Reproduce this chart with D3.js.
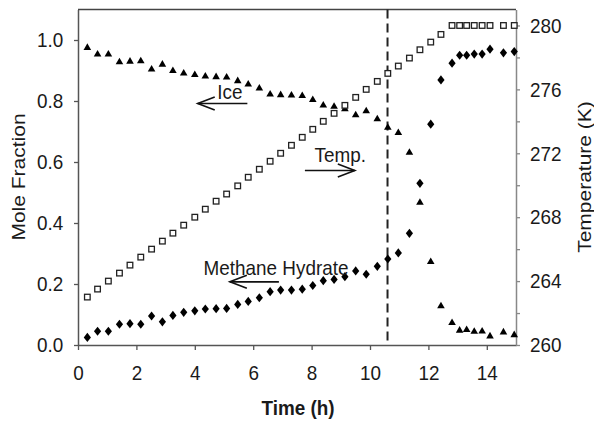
<!DOCTYPE html>
<html><head><meta charset="utf-8">
<script src="https://cdn.jsdelivr.net/npm/d3@7"></script>
<style>body{margin:0;background:#fff}svg{display:block}</style>
</head><body>
<svg id="c" width="594" height="423"></svg>
<script>
// ---- data ----
const time = [0.32,0.67,1.04,1.42,1.78,2.15,2.52,2.89,3.25,3.62,4.00,4.36,4.73,5.09,5.47,5.83,6.21,6.58,6.94,7.31,
  7.68,8.04,8.40,8.77,9.14,9.51,9.87,10.25,10.61,10.97,11.35,11.71,12.08,12.43,12.81,13.07,13.31,13.57,13.84,14.11,14.57,14.94];
const ice = [0.978,0.956,0.956,0.931,0.933,0.934,0.907,0.923,0.902,0.894,0.889,0.884,0.882,0.881,0.869,0.858,0.845,0.825,0.823,0.822,
  0.820,0.807,0.789,0.785,0.777,0.757,0.770,0.744,0.716,0.699,0.634,0.470,0.276,0.131,0.076,0.051,0.053,0.047,0.048,0.032,0.045,0.036];
const hydrate = [0.025,0.045,0.045,0.068,0.070,0.068,0.095,0.076,0.097,0.107,0.112,0.118,0.119,0.120,0.133,0.143,0.155,0.175,0.180,0.180,
  0.183,0.195,0.211,0.215,0.224,0.243,0.232,0.258,0.282,0.302,0.366,0.530,0.724,0.869,0.924,0.950,0.950,0.954,0.954,0.970,0.958,0.962];
const temperature = [263.0,263.5,264.0,264.5,265.0,265.5,266.0,266.5,267.0,267.5,268.0,268.5,269.0,269.45,269.96,270.5,271.0,271.5,272.0,272.5,
  273.0,273.5,274.0,274.5,275.0,275.5,276.0,276.5,277.0,277.46,277.96,278.48,278.96,279.44,280,280,280,280,280,280,280,280];
const xTicks = [0,2,4,6,8,10,12,14];
const leftTicks = [0,0.2,0.4,0.6,0.8,1.0];
const rightTicks = [260,262,264,266,268,270,272,274,276,278,280];
const rightLabels = [260,264,268,272,276,280];
const dashTime = 10.6;
const annotations = [
  {text:"Ice", t:4.77, v:0.805, dir:-1, a0:4.1, a1:5.8, av:0.792},
  {text:"Temp.", t:8.1, v:0.600, dir:1, a0:7.77, a1:9.48, av:0.572},
  {text:"Methane Hydrate", t:4.3, v:0.230, dir:-1, a0:5.2, a1:6.88, av:0.207}
];

// ---- layout ----
const svg = d3.select("#c");
const L = 78, R = 516, T = 9.5, B = 345;
const x = d3.scaleLinear([0,15],[L,R]);
const yL = d3.scaleLinear([0,1.1],[B,T]);
const yR = d3.scaleLinear([260,281],[B,T]);
const FONT = "'Liberation Sans', Arial, sans-serif";
const SX = 0.9;

// top border
svg.append("line").attr("x1",L).attr("x2",R).attr("y1",T).attr("y2",T)
  .attr("stroke","#444").attr("stroke-width",1.5);

function styleAxis(g, col){
  g.select(".domain").attr("stroke",col).attr("stroke-width",1.5);
  g.selectAll(".tick line").attr("stroke",col).attr("stroke-width",1.3);
  g.selectAll(".tick text").attr("fill","#1a1a1a").style("font-family",FONT)
    .style("font-size","21px").attr("transform",`scale(${SX},1)`);
}

const gx = svg.append("g").attr("transform",`translate(0,${B})`)
  .call(d3.axisBottom(x).tickValues(xTicks).tickFormat(d3.format("d")).tickSize(5).tickSizeOuter(0).tickPadding(15));
styleAxis(gx,"#555");

const gl = svg.append("g").attr("transform",`translate(${L},0)`)
  .call(d3.axisLeft(yL).tickValues(leftTicks).tickFormat(d3.format(".1f")).tickSize(4).tickSizeOuter(0).tickPadding(12.5));
styleAxis(gl,"#555");

const gr = svg.append("g").attr("transform",`translate(${R},0)`)
  .call(d3.axisRight(yR).tickValues(rightTicks).tickFormat(d=>rightLabels.includes(d)?d:"").tickSize(4).tickSizeOuter(0).tickPadding(11.5));
styleAxis(gr,"#888");

// axis titles
svg.append("text").attr("transform",`translate(25,177) rotate(-90) scale(1,${SX})`)
  .attr("text-anchor","middle").style("font-family",FONT).style("font-size","21px").attr("fill","#1a1a1a")
  .text("Mole Fraction");
svg.append("text").attr("transform",`translate(591,177) rotate(-90) scale(1,${SX})`)
  .attr("text-anchor","middle").style("font-family",FONT).style("font-size","21px").attr("fill","#1a1a1a")
  .text("Temperature (K)");
svg.append("text").attr("transform",`translate(298,415) scale(${SX},1)`)
  .attr("text-anchor","middle").style("font-family",FONT).style("font-size","21px").style("font-weight","bold").attr("fill","#1a1a1a")
  .text("Time (h)");

// dashed line
svg.append("line").attr("x1",x(dashTime)).attr("x2",x(dashTime)).attr("y1",T).attr("y2",B)
  .attr("stroke","#222").attr("stroke-width",2).attr("stroke-dasharray","9,5");

// markers
const tri = "M0,-3.4L3.8,3.2L-3.8,3.2Z";
const dia = "M0,-4.6L3.6,0L0,4.6L-3.6,0Z";
svg.append("g").selectAll("path").data(time).join("path")
  .attr("d",tri).attr("transform",(d,i)=>`translate(${x(d)},${yL(ice[i])})`).attr("fill","#000");
svg.append("g").selectAll("rect").data(time).join("rect")
  .attr("x",d=>x(d)-2.8).attr("y",(d,i)=>yR(temperature[i])-2.8).attr("width",5.6).attr("height",5.6)
  .attr("fill","#fff").attr("stroke","#222").attr("stroke-width",1.3);
svg.append("g").selectAll("path").data(time).join("path")
  .attr("d",dia).attr("transform",(d,i)=>`translate(${x(d)},${yL(hydrate[i])})`).attr("fill","#000");

// annotations
annotations.forEach(a=>{
  svg.append("text").attr("transform",`translate(${x(a.t)},${yL(a.v)}) scale(${SX},1)`)
    .style("font-family",FONT).style("font-size","21px").attr("fill","#1a1a1a").text(a.text);
  const y0 = yL(a.av), x0 = x(a.a0), x1 = x(a.a1);
  svg.append("line").attr("x1",x0).attr("x2",x1).attr("y1",y0).attr("y2",y0).attr("stroke","#111").attr("stroke-width",1.6);
  const tip = a.dir<0 ? x0 : x1, back = tip - a.dir*17;
  svg.append("path").attr("d",`M${back},${y0-6.5}L${tip},${y0}L${back},${y0+6.5}`)
    .attr("fill","none").attr("stroke","#111").attr("stroke-width",1.6);
});
</script>
</body></html>
